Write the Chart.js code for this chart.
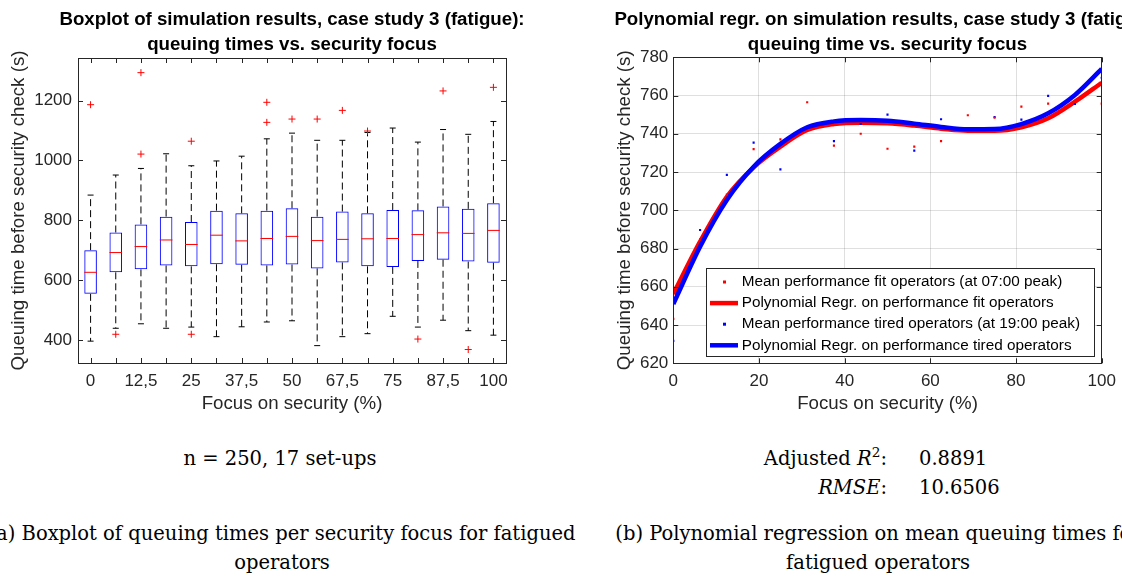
<!DOCTYPE html>
<html>
<head>
<meta charset="utf-8">
<script src="https://cdn.jsdelivr.net/npm/chart.js@4.4.1/dist/chart.umd.min.js"></script>
<style>
html, body { margin: 0; padding: 0; overflow: hidden; background: #fff; }
body { position: relative; width: 1122px; height: 576px; }
#boxCanvas { position: absolute; left: 0; top: 0; }
#regrCanvas { position: absolute; left: 560px; top: 0; }
.cap { position: absolute; font-family: "DejaVu Serif", "Liberation Serif", serif; font-size: 19.5px; line-height: 29px; color: #000; white-space: nowrap; }
.cap sup { font-size: 0.7em; line-height: 0; vertical-align: 0.6em; }
</style>
</head>
<body>
<canvas id="boxCanvas" width="560" height="420"></canvas>
<canvas id="regrCanvas" width="700" height="420"></canvas>

<div class="cap" style="left:80px; width:400px; top:444px; text-align:center;">n = 250, 17 set-ups</div>
<div class="cap" style="right:235px; top:444px; text-align:right;">Adjusted <i>R</i><sup>2</sup>:<br><i>RMSE</i>:</div>
<div class="cap" style="left:919px; top:444px;">0.8891<br>10.6506</div>
<div class="cap" style="left:-118px; width:800px; top:519px; text-align:center;">(a) Boxplot of queuing times per security focus for fatigued<br>operators</div>
<div class="cap" style="left:478px; width:800px; top:519px; text-align:center;">(b) Polynomial regression on mean queuing times for<br>fatigued operators</div>

<script>
// Datos del boxplot (17 configuraciones, foco en seguridad)
const focusTickLabels = ['0', '', '12,5', '', '25', '', '37,5', '', '50', '', '67,5', '', '75', '', '87,5', '', '100'];
const boxYTicks = [400, 600, 800, 1000, 1200];
const boxQ1 = [554, 626, 636, 649, 646, 653, 651, 649, 652, 639, 659, 646, 644, 664, 668, 662, 658];
const boxMedian = [626, 692, 712, 734, 719, 750, 731, 739, 746, 732, 736, 738, 739, 752, 758, 756, 766];
const boxQ3 = [700, 759, 786, 812, 794, 832, 823, 832, 840, 812, 829, 823, 834, 833, 846, 838, 857];
const whiskerHigh = [884, 951, 973, 1022, 982, 998, 1014, 1072, 1091, 1067, 1067, 1093, 1108, 1061, 1103, 1087, 1130];
const whiskerLow = [396, 439, 454, 439, 443, 411, 444, 460, 464, 381, 411, 421, 479, 443, 466, 431, 416];
const outlierSetup = [1, 2, 3, 3, 5, 5, 8, 8, 9, 10, 11, 12, 14, 15, 16, 17];
const outlierValue = [1186, 419, 1021, 1293, 1064, 419, 1194, 1127, 1138, 1138, 1167, 1098, 403, 1232, 368, 1244];

// Datos de la regresión polinómica
const focusPercent = [0, 6.25, 12.5, 18.75, 25, 31.25, 37.5, 43.75, 50, 56.25, 62.5, 68.75, 75, 81.25, 87.5, 93.75, 100];
const fitMeans = [643.2, 684.8, 708.2, 732, 737.1, 756.5, 733.8, 740, 732.2, 733.3, 736.2, 749.7, 748.4, 754.2, 755.8, 756.8, 755.8];
const tiredMeans = [631.7, 689.7, 718.5, 735.4, 721.4, 743.4, 736.2, 745.1, 750, 731.2, 747.6, 742.5, 748.8, 747.4, 759.8, 755.6, 769.3];
const fitCurve = [656.2, 683.6, 707.1, 722.5, 733.3, 742, 745.1, 745.8, 745.5, 744.3, 742.7, 741.6, 741.6, 743.4, 748.1, 756.8, 766.7];
const tiredCurve = [651, 681, 705.4, 722.8, 734.7, 743.4, 746.5, 747.2, 746.8, 745.3, 743.6, 742.4, 742.5, 745.1, 750.7, 760.3, 773.9];

Chart.defaults.font.family = '"Liberation Sans", Arial, sans-serif';
Chart.defaults.color = '#262626';

const setups = focusTickLabels.map((_, i) => i + 1);

// Marco estilo MATLAB: caja, ticks hacia dentro, títulos y etiquetas de ejes
const matlabAxes = {
    id: 'matlabAxes',
    afterDraw(chart, args, opts) {
        const { ctx, chartArea: a, scales } = chart;
        const len = opts.tickLen;
        ctx.save();
        ctx.strokeStyle = '#262626';
        ctx.lineWidth = 1;
        ctx.beginPath();
        scales.x.ticks.forEach(t => {
            const px = Math.round(scales.x.getPixelForValue(t.value)) + 0.5;
            ctx.moveTo(px, a.top);
            ctx.lineTo(px, a.top + len);
            ctx.moveTo(px, a.bottom);
            ctx.lineTo(px, a.bottom - len);
        });
        scales.y.ticks.forEach(t => {
            const py = Math.round(scales.y.getPixelForValue(t.value)) + 0.5;
            ctx.moveTo(a.left, py);
            ctx.lineTo(a.left + len, py);
            ctx.moveTo(a.right, py);
            ctx.lineTo(a.right - len, py);
        });
        ctx.stroke();
        ctx.strokeRect(Math.round(a.left) + 0.5, Math.round(a.top) + 0.5,
            Math.round(a.right - a.left), Math.round(a.bottom - a.top));

        const cx = (a.left + a.right) / 2;
        ctx.textAlign = 'center';
        ctx.textBaseline = 'alphabetic';
        ctx.fillStyle = '#000';
        ctx.font = 'bold 18.7px "Liberation Sans", Arial, sans-serif';
        opts.title.forEach((line, i) => ctx.fillText(line, cx, opts.titleY + i * opts.titleGap));

        ctx.fillStyle = '#262626';
        ctx.font = '18.7px "Liberation Sans", Arial, sans-serif';
        ctx.fillText(opts.xLabel, cx, a.bottom + opts.xLabelOffset);

        ctx.translate(opts.yLabelX, (a.top + a.bottom) / 2);
        ctx.rotate(-Math.PI / 2);
        ctx.textBaseline = 'middle';
        ctx.fillText(opts.yLabel, 0, 0);
        ctx.restore();
    }
};

// Leyenda dentro del área (esquina inferior derecha)
const insideLegend = {
    id: 'insideLegend',
    afterDraw(chart, args, opts) {
        if (!opts.show) return;
        const { ctx, chartArea: a } = chart;
        const left = Math.round(a.right - opts.margin - opts.width);
        const top = Math.round(a.bottom - opts.margin - opts.height);
        ctx.save();
        ctx.fillStyle = '#fff';
        ctx.fillRect(left, top, opts.width, opts.height);
        ctx.strokeStyle = '#262626';
        ctx.lineWidth = 1;
        ctx.strokeRect(left + 0.5, top + 0.5, opts.width, opts.height);
        ctx.font = '15.3px "Liberation Sans", Arial, sans-serif';
        ctx.textAlign = 'left';
        ctx.textBaseline = 'middle';
        chart.data.datasets.forEach((ds, i) => {
            const y = top + opts.firstRow + i * opts.rowGap;
            if (ds.type === 'line') {
                ctx.strokeStyle = ds.borderColor;
                ctx.lineWidth = 4.5;
                ctx.beginPath();
                ctx.moveTo(left + 4, y);
                ctx.lineTo(left + 32, y);
                ctx.stroke();
            } else {
                ctx.fillStyle = ds.backgroundColor;
                ctx.fillRect(left + 17, y - 1.5, 3, 3);
            }
            ctx.fillStyle = '#000';
            ctx.fillText(ds.label, left + 35.7, y);
        });
        ctx.restore();
    }
};

// Puntos de bigotes: segmentos separados con null
const whiskerPoints = [];
setups.forEach((p, i) => {
    whiskerPoints.push({ x: p, y: boxQ3[i] }, { x: p, y: whiskerHigh[i] }, { x: p, y: null });
    whiskerPoints.push({ x: p, y: boxQ1[i] }, { x: p, y: whiskerLow[i] }, { x: p, y: null });
});
const capPoints = [];
setups.forEach((p, i) => {
    capPoints.push({ x: p, y: whiskerHigh[i] }, { x: p, y: whiskerLow[i] });
});

const tickFont = { size: 17 };

new Chart(document.getElementById('boxCanvas'), {
    type: 'bar',
    data: {
        datasets: [
            {
                type: 'bar',
                label: 'box',
                data: setups.map((p, i) => ({ x: p, y: [boxQ1[i], boxQ3[i]] })),
                backgroundColor: 'rgba(0,0,0,0)',
                borderColor: '#0000ff',
                borderWidth: 1,
                borderSkipped: false,
                barPercentage: 0.5,
                categoryPercentage: 1,
                order: 3
            },
            {
                type: 'line',
                label: 'whiskers',
                data: whiskerPoints,
                borderColor: '#000',
                borderWidth: 1,
                borderDash: [7, 4],
                pointRadius: 0,
                spanGaps: false,
                order: 4
            },
            {
                type: 'scatter',
                label: 'caps',
                data: capPoints,
                pointStyle: 'line',
                pointRadius: 3,
                borderColor: '#000',
                borderWidth: 1,
                order: 2
            },
            {
                type: 'scatter',
                label: 'median',
                data: setups.map((p, i) => ({ x: p, y: boxMedian[i] })),
                pointStyle: 'line',
                pointRadius: 6.3,
                borderColor: '#ff0000',
                borderWidth: 1,
                order: 1
            },
            {
                type: 'scatter',
                label: 'outliers',
                data: outlierSetup.map((p, i) => ({ x: p, y: outlierValue[i] })),
                pointStyle: 'cross',
                pointRadius: 3.5,
                borderColor: '#ff0000',
                borderWidth: 1,
                order: 0
            }
        ]
    },
    options: {
        responsive: false,
        animation: false,
        events: [],
        layout: { padding: { top: 58, right: 54, bottom: 0, left: 0 } },
        plugins: {
            legend: { display: false },
            tooltip: { enabled: false },
            matlabAxes: {
                tickLen: 5,
                title: ['Boxplot of simulation results, case study 3 (fatigue):', 'queuing times vs. security focus'],
                titleY: 25,
                titleGap: 24.5,
                xLabel: 'Focus on security (%)',
                xLabelOffset: 46,
                yLabel: 'Queuing time before security check (s)',
                yLabelX: 19
            },
            insideLegend: { show: false }
        },
        scales: {
            x: {
                type: 'linear',
                min: 0.5,
                max: 17.5,
                offset: false,
                grid: { display: false, drawTicks: false, offset: false },
                border: { display: false },
                afterBuildTicks: s => { s.ticks = setups.map(v => ({ value: v })); },
                afterFit: s => { s.height = 57; },
                ticks: {
                    autoSkip: false,
                    maxRotation: 0,
                    padding: 8,
                    font: tickFont,
                    callback: (v, i) => focusTickLabels[i]
                }
            },
            y: {
                min: 323,
                max: 1342,
                beginAtZero: false,
                grid: { display: false, drawTicks: false },
                border: { display: false },
                afterBuildTicks: s => { s.ticks = boxYTicks.map(v => ({ value: v })); },
                afterFit: s => { s.width = 78; },
                ticks: { padding: 6, font: tickFont, callback: v => String(v) }
            }
        }
    },
    plugins: [matlabAxes, insideLegend]
});

new Chart(document.getElementById('regrCanvas'), {
    type: 'scatter',
    data: {
        datasets: [
            {
                type: 'scatter',
                label: 'Mean performance fit operators (at 07:00 peak)',
                data: focusPercent.map((x, i) => ({ x, y: fitMeans[i] })),
                backgroundColor: '#ff0000',
                pointStyle: 'rect',
                pointRadius: 1.5,
                borderWidth: 0,
                order: 0
            },
            {
                type: 'line',
                label: 'Polynomial Regr. on performance fit operators',
                data: focusPercent.map((x, i) => ({ x, y: fitCurve[i] })),
                borderColor: '#ff0000',
                borderWidth: 4.5,
                pointRadius: 0,
                cubicInterpolationMode: 'monotone',
                order: 2
            },
            {
                type: 'scatter',
                label: 'Mean performance tired operators (at 19:00 peak)',
                data: focusPercent.map((x, i) => ({ x, y: tiredMeans[i] })),
                backgroundColor: '#0000ff',
                pointStyle: 'rect',
                pointRadius: 1.5,
                borderWidth: 0,
                order: 0
            },
            {
                type: 'line',
                label: 'Polynomial Regr. on performance tired operators',
                data: focusPercent.map((x, i) => ({ x, y: tiredCurve[i] })),
                borderColor: '#0000ff',
                borderWidth: 4.5,
                pointRadius: 0,
                cubicInterpolationMode: 'monotone',
                order: 1
            }
        ]
    },
    options: {
        responsive: false,
        animation: false,
        events: [],
        layout: { padding: { top: 57.3, right: 158.3, bottom: 0, left: 0 } },
        plugins: {
            legend: { display: false },
            tooltip: { enabled: false },
            matlabAxes: {
                tickLen: 5,
                title: ['Polynomial regr. on simulation results, case study 3 (fatigue):', 'queuing time vs. security focus'],
                titleY: 25,
                titleGap: 24.5,
                xLabel: 'Focus on security (%)',
                xLabelOffset: 46,
                yLabel: 'Queuing time before security check (s)',
                yLabelX: 65
            },
            insideLegend: { show: true, width: 388, height: 88, margin: 7.4, firstRow: 14, rowGap: 21.1 }
        },
        scales: {
            x: {
                type: 'linear',
                min: 0,
                max: 100,
                grid: { color: 'rgba(38,38,38,0.15)', drawTicks: false },
                border: { display: false },
                afterFit: s => { s.height = 56.7; },
                ticks: { stepSize: 20, padding: 8, maxRotation: 0, font: tickFont }
            },
            y: {
                min: 620,
                max: 780,
                grid: { color: 'rgba(38,38,38,0.15)', drawTicks: false },
                border: { display: false },
                afterFit: s => { s.width = 113.3; },
                ticks: { stepSize: 20, padding: 5, font: tickFont }
            }
        }
    },
    plugins: [matlabAxes, insideLegend]
});
</script>
</body>
</html>
